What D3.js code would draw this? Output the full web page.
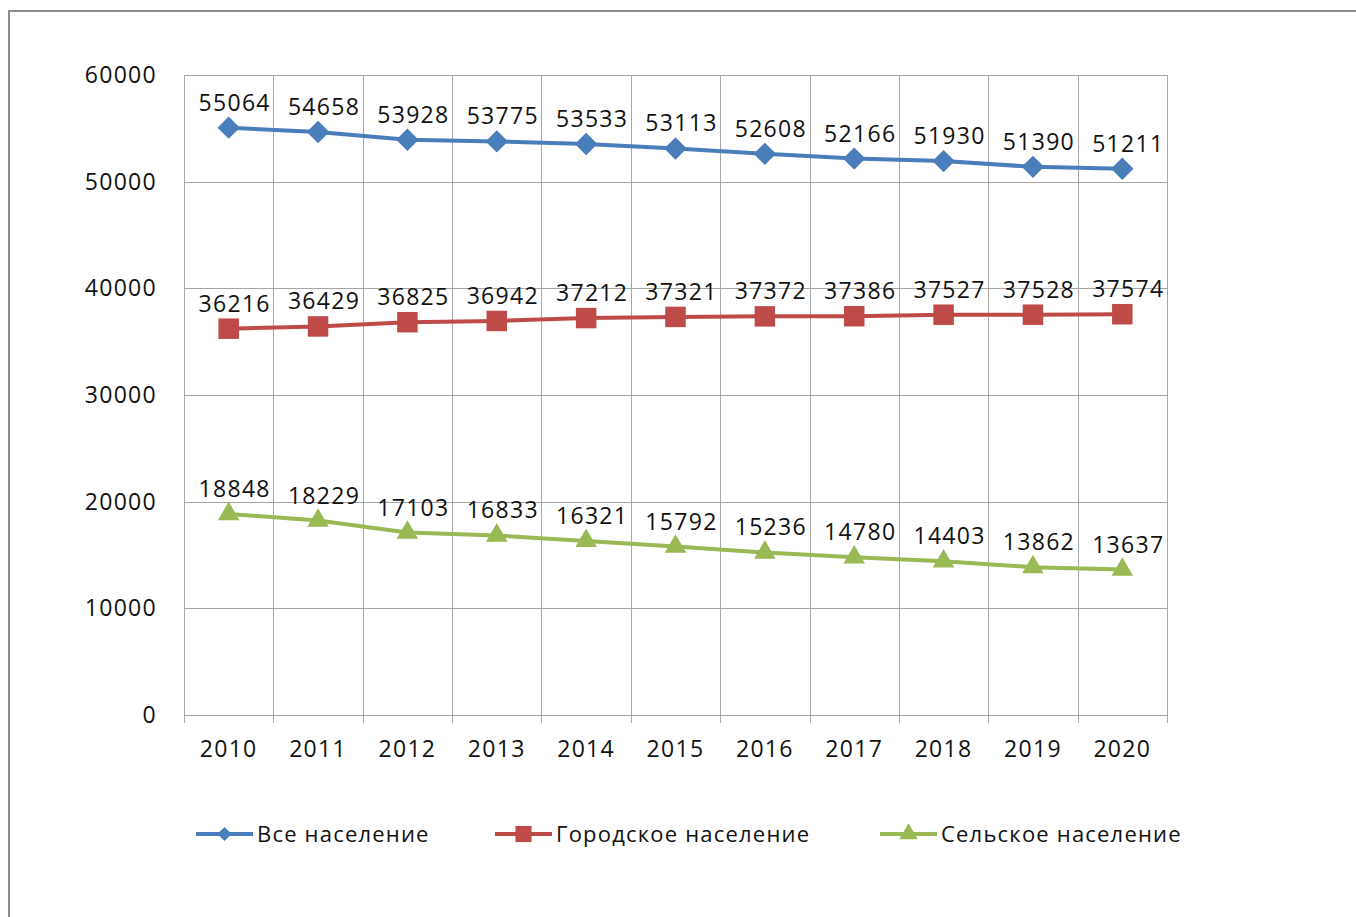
<!DOCTYPE html>
<html>
<head>
<meta charset="utf-8">
<script src="https://cdn.jsdelivr.net/npm/d3@7"></script>
<style>
  body { margin: 0; background: #fff; }
  text { font-family: "Open Sans", sans-serif; fill: #111; }
</style>
</head>
<body>
<script>
// data
var years = ['2010','2011','2012','2013','2014','2015','2016','2017','2018','2019','2020']
var allPop = [55064, 54658, 53928, 53775, 53533, 53113, 52608, 52166, 51930, 51390, 51211]
var urbanPop = [36216, 36429, 36825, 36942, 37212, 37321, 37372, 37386, 37527, 37528, 37574]
var ruralPop = [18848, 18229, 17103, 16833, 16321, 15792, 15236, 14780, 14403, 13862, 13637]
var seriesNames = ['Все население', 'Городское население', 'Сельское население']
var yTicks = [0, 10000, 20000, 30000, 40000, 50000, 60000]

var width = 1356
var height = 917
var margin = {left: 184, top: 75, right: 189, bottom: 202}

// diamond = square turned 45deg (d3's own diamond is too tall)
var series = [
    {name: seriesNames[0], values: allPop, color: '#4A7EBB', shape: d3.symbolSquare, rot: 45, size: 250, lsize: 100},
    {name: seriesNames[1], values: urbanPop, color: '#BE4B48', shape: d3.symbolSquare, rot: 0, size: 420, lsize: 260},
    {name: seriesNames[2], values: ruralPop, color: '#98B954', shape: d3.symbolTriangle, rot: 0, size: 200, lsize: 150}
]

var svg = d3.select('body').append('svg').attr('width', width).attr('height', height)

// outer chart border
svg.append('rect')
    .attr('x', 9).attr('y', 11)
    .attr('width', 1400).attr('height', 1000)
    .attr('fill', 'none').attr('stroke', '#8c8c8c').attr('stroke-width', 2)

var innerW = width - margin.left - margin.right
var innerH = height - margin.top - margin.bottom

var x = d3.scaleBand().domain(years).range([0, innerW])
var y = d3.scaleLinear().domain([0, 60000]).range([innerH, 0])

var g = svg.append('g').attr('transform', `translate(${margin.left}, ${margin.top})`)

// horizontal grid
g.append('g').selectAll('line').data(yTicks).join('line')
    .attr('x1', 0).attr('x2', innerW)
    .attr('y1', d => Math.round(y(d)) + 0.5).attr('y2', d => Math.round(y(d)) + 0.5)
    .attr('stroke', '#a6a6a6')

// vertical grid at category boundaries
var bounds = years.map(d => x(d)).concat([innerW])
g.append('g').selectAll('line').data(bounds).join('line')
    .attr('x1', d => Math.round(d) + 0.5).attr('x2', d => Math.round(d) + 0.5)
    .attr('y1', 0).attr('y2', innerH + 8)
    .attr('stroke', '#a6a6a6')

// y axis labels
g.append('g').selectAll('text').data(yTicks).join('text')
    .attr('x', -27).attr('y', d => y(d) + 8)
    .attr('text-anchor', 'end').attr('font-size', 23).attr('letter-spacing', 1.3)
    .text(d => d)

// x axis labels
g.append('g').selectAll('text').data(years).join('text')
    .attr('x', d => x(d) + x.bandwidth() / 2).attr('y', innerH + 42)
    .attr('text-anchor', 'middle').attr('font-size', 23).attr('letter-spacing', 1.3)
    .text(d => d)

var line = d3.line()
    .x((d, i) => x(years[i]) + x.bandwidth() / 2)
    .y(d => y(d))

series.forEach(function(s) {
    var sg = g.append('g')
    sg.append('path').attr('d', line(s.values))
        .attr('fill', 'none').attr('stroke', s.color).attr('stroke-width', 4)
    sg.selectAll('path.mark').data(s.values).join('path').attr('class', 'mark')
        .attr('transform', (d, i) => `translate(${x(years[i]) + x.bandwidth() / 2}, ${y(d)}) rotate(${s.rot})`)
        .attr('d', d3.symbol().type(s.shape).size(s.size))
        .attr('fill', s.color)
    sg.selectAll('text').data(s.values).join('text')
        .attr('x', (d, i) => x(years[i]) + x.bandwidth() / 2 + 6)
        .attr('y', d => y(d) - 17)
        .attr('text-anchor', 'middle').attr('font-size', 23).attr('letter-spacing', 1.3)
        .text(d => d)
})

// legend
var legendX = [196, 495, 880]
var legend = svg.append('g').selectAll('g').data(series).join('g')
    .attr('transform', (d, i) => `translate(${legendX[i]}, 834)`)
legend.append('line').attr('x1', 0).attr('x2', 57)
    .attr('stroke', d => d.color).attr('stroke-width', 4)
legend.append('path').attr('transform', d => `translate(28.5, 0) rotate(${d.rot})`)
    .attr('d', d => d3.symbol().type(d.shape).size(d.lsize)())
    .attr('fill', d => d.color)
legend.append('text').attr('x', 61).attr('y', 8).attr('font-size', 22).attr('letter-spacing', 1.2)
    .text(d => d.name)
</script>
</body>
</html>
